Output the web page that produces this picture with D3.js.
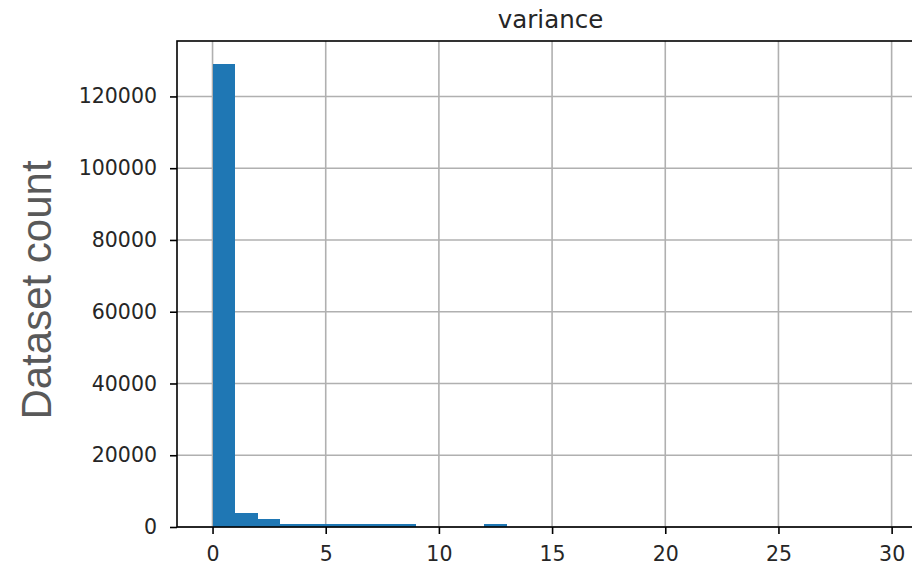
<!DOCTYPE html>
<html>
<head>
<meta charset="utf-8">
<script src="https://cdn.jsdelivr.net/npm/d3@7"></script>
<style>
    body { margin: 0; background: #fff; }
    svg { display: block; }
</style>
</head>
<body>
<svg id="chart"></svg>
<script>
// histogram of "variance": lower bin edges and counts (bin width 1)
const binStarts = [0, 1, 2, 3, 4, 5, 6, 7, 8, 9, 10, 11, 12, 13, 14,
    15, 16, 17, 18, 19, 20, 21, 22, 23, 24, 25, 26, 27, 28, 29];
const binCounts = [129000, 3800, 2150, 800, 750, 750, 750, 750, 720, 40, 20, 30, 750, 30, 10,
    5, 5, 3, 2, 2, 2, 1, 1, 1, 1, 1, 1, 1, 1, 2];
const binWidth = 1;

const xTicks = [0, 5, 10, 15, 20, 25, 30];
const yTicks = [0, 20000, 40000, 60000, 80000, 100000, 120000];

const title = 'variance';
const yLabel = 'Dataset count';

function drawChart() {
    const width = 912;
    const height = 567;
    const plot = {left: 177, top: 41, right: 924, bottom: 527};

    const svg = d3.select('#chart')
        .attr('width', width)
        .attr('height', height);

    const scales = {};
    scales.x = d3.scaleLinear()
        .domain([-1.57, 31.43])
        .range([plot.left, plot.right]);
    scales.y = d3.scaleLinear()
        .domain([0, d3.max(binCounts) * 1.05])
        .range([plot.bottom, plot.top]);

    const bins = binStarts.map((b, i) => ({x0: b, x1: b + binWidth, count: binCounts[i]}));

    // grid below bars
    const elGrid = svg.insert('g').attr('class', 'grid');
    elGrid.selectAll('line.gx')
        .data(xTicks)
        .join('line')
        .attr('class', 'gx')
        .attr('x1', d => scales.x(d))
        .attr('x2', d => scales.x(d))
        .attr('y1', plot.top)
        .attr('y2', plot.bottom)
        .attr('stroke', '#b0b0b0')
        .attr('stroke-width', 1.6);
    elGrid.selectAll('line.gy')
        .data(yTicks)
        .join('line')
        .attr('class', 'gy')
        .attr('x1', plot.left)
        .attr('x2', plot.right)
        .attr('y1', d => scales.y(d))
        .attr('y2', d => scales.y(d))
        .attr('stroke', '#b0b0b0')
        .attr('stroke-width', 1.6);

    svg.insert('g')
        .attr('class', 'bars')
        .selectAll('rect')
        .data(bins)
        .join('rect')
        .attr('x', d => scales.x(d.x0))
        .attr('width', d => scales.x(d.x1) - scales.x(d.x0))
        .attr('y', d => scales.y(d.count))
        .attr('height', d => scales.y(0) - scales.y(d.count))
        .attr('fill', '#1f77b4')
        .attr('shape-rendering', 'crispEdges');

    const axes = {
        x: d3.axisBottom(scales.x).tickValues(xTicks).tickSizeOuter(0).tickSize(7).tickPadding(12),
        y: d3.axisLeft(scales.y).tickValues(yTicks).tickSizeOuter(0).tickSize(7).tickPadding(13)
            .tickFormat(d3.format('d'))
    };

    const elAxisX = svg.insert('g')
        .attr('class', 'axis axis--x')
        .attr('transform', `translate(0, ${plot.bottom})`)
        .call(axes.x);
    const elAxisY = svg.insert('g')
        .attr('class', 'axis axis--y')
        .attr('transform', `translate(${plot.left}, 0)`)
        .call(axes.y);

    [elAxisX, elAxisY].forEach(el => {
        el.select('.domain').remove();
        el.selectAll('.tick line').attr('stroke', '#000').attr('stroke-width', 1.6);
        el.selectAll('.tick text')
            .attr('fill', '#262626')
            .style('font-family', '"DejaVu Sans", sans-serif')
            .style('font-size', '20.5px');
    });
    elAxisX.selectAll('.tick text').attr('dy', '0.71em');

    // spines (right one falls outside the window)
    const spines = svg.insert('g').attr('class', 'spines');
    spines.append('rect')
        .attr('x', plot.left)
        .attr('y', plot.top)
        .attr('width', plot.right - plot.left)
        .attr('height', plot.bottom - plot.top)
        .attr('fill', 'none')
        .attr('stroke', '#000')
        .attr('stroke-width', 1.6);

    svg.append('text')
        .attr('x', (plot.left + plot.right) / 2)
        .attr('y', 28)
        .attr('text-anchor', 'middle')
        .attr('fill', '#262626')
        .style('font-family', '"DejaVu Sans", sans-serif')
        .style('font-size', '24.5px')
        .text(title);

    svg.append('text')
        .attr('transform', 'translate(51, 290) rotate(-90)')
        .attr('text-anchor', 'middle')
        .attr('fill', '#595959')
        .style('font-family', '"Liberation Sans", Arial, sans-serif')
        .style('font-size', '42px')
        .text(yLabel);
}

drawChart();
</script>
</body>
</html>
